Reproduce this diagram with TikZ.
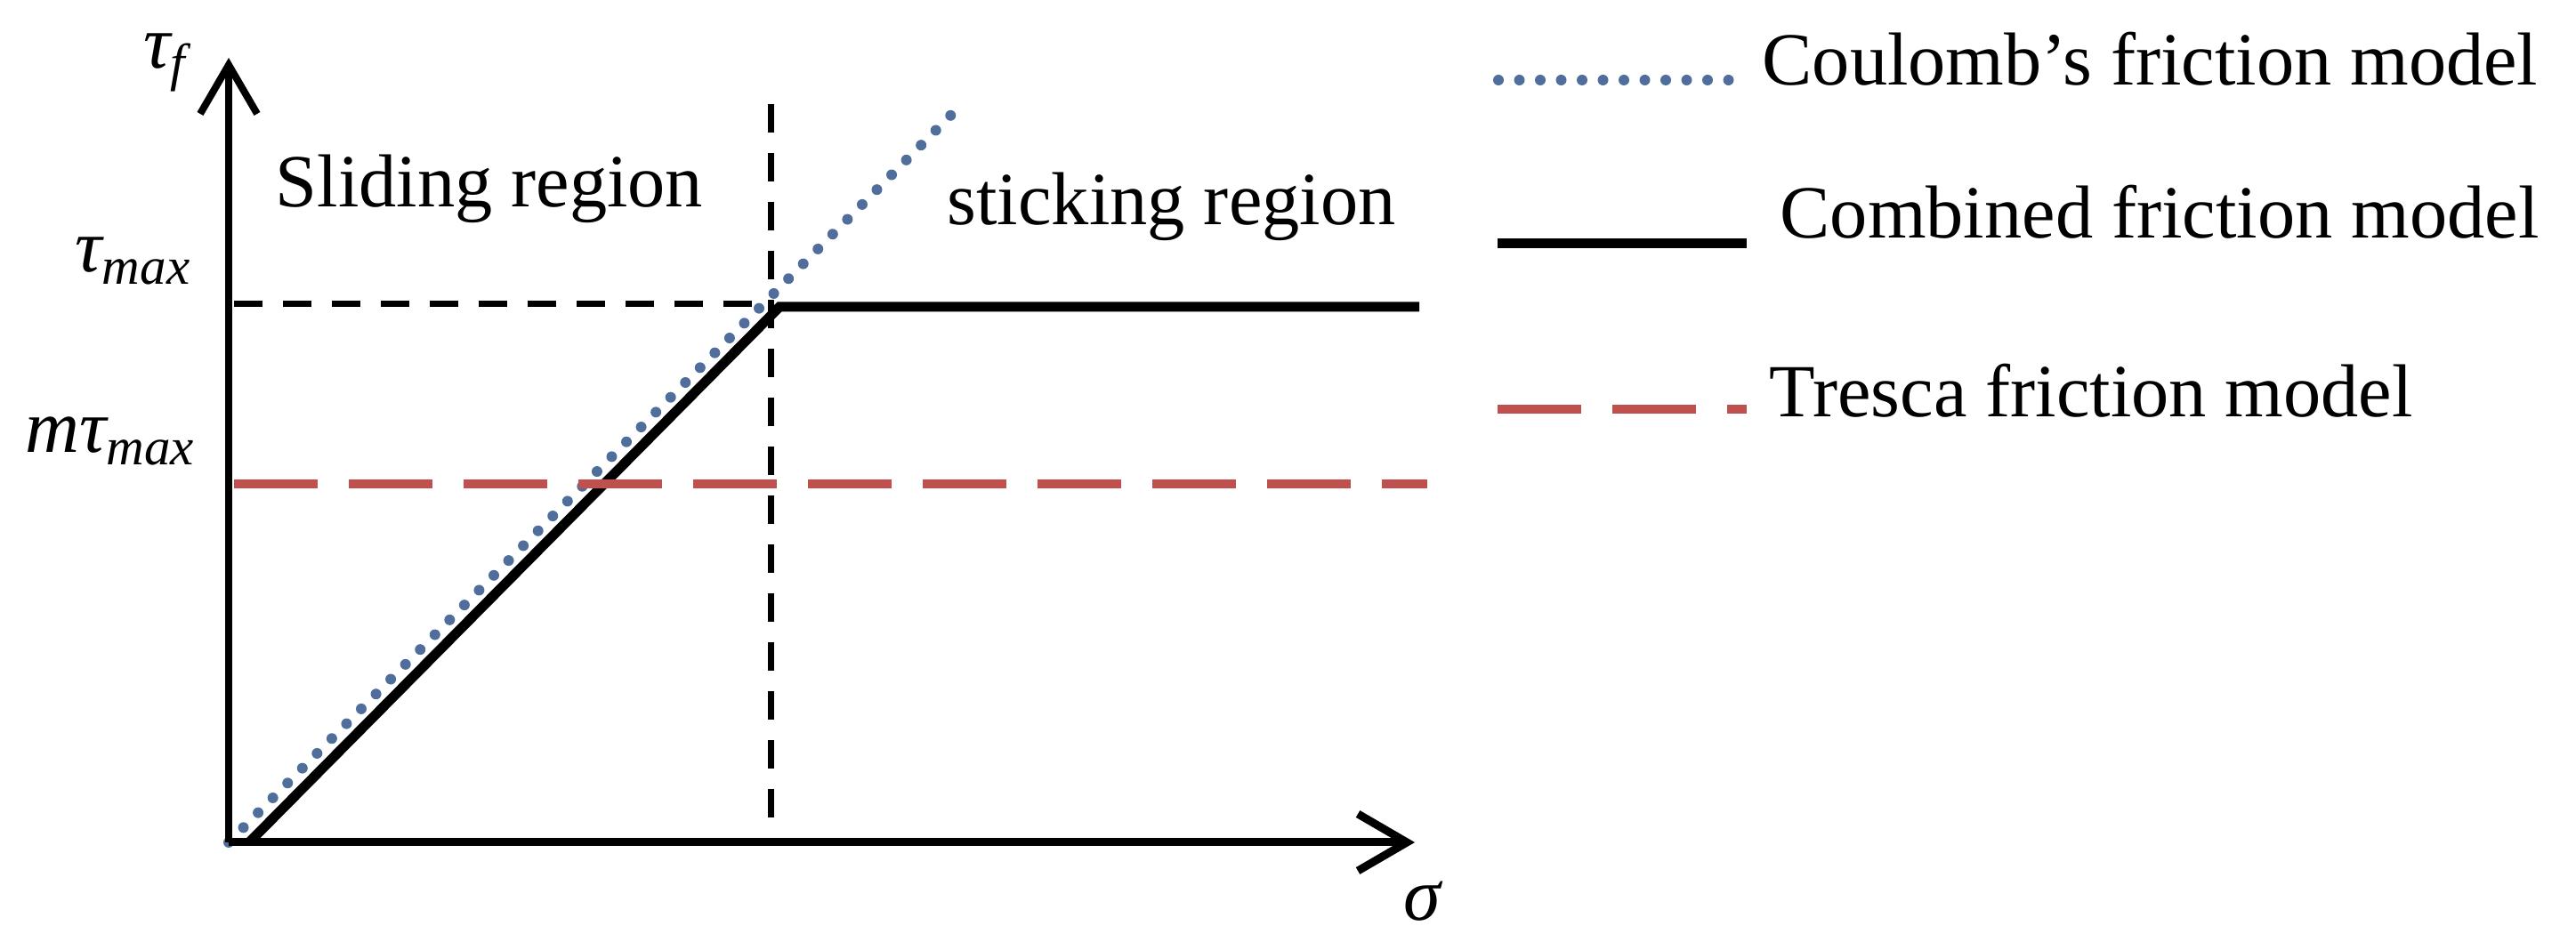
\documentclass[tikz,border=0pt]{standalone}
\usepackage{fontspec}
\setmainfont{Liberation Serif}
\usetikzlibrary{arrows.meta,positioning}
\definecolor{coulombblue}{HTML}{4F6E9C}
\definecolor{trescared}{HTML}{C0504D}
\newcommand{\tauit}{\mbox{\itshape τ}}
\newcommand{\sigmait}{\mbox{\itshape σ}}
\tikzstyle{axis} = [line width=0.8mm, -{Straight Barb[length=5.5mm, width=6.4mm]}]
\tikzstyle{guide} = [line width=0.7mm, dash pattern=on 3.2mm off 2.3mm]
\tikzstyle{coulomb} = [line width=1.2mm, coulombblue, line cap=round, dash pattern=on 0mm off 2.35mm]
\tikzstyle{combined} = [line width=1.1mm, black]
\tikzstyle{tresca} = [line width=1mm, trescared, dash pattern=on 9.4mm off 3.5mm]
\tikzstyle{textlabel} = [inner sep=0pt, anchor=base west]
\begin{document}
\begin{tikzpicture}[font=\fontsize{24}{28}\selectfont, line join=miter]
	            \useasboundingbox (0,0) rectangle (28.95,10.68);
	            % axes
	            \coordinate (origin) at (2.57,1.21);
	            \coordinate (sigmaEnd) at (15.90,1.21);
	            \coordinate (tauEnd) at (2.57,10.03);
	            \node (sigma) at (15.98,0.55) {$\sigmait$};
	            \node (tauF) [textlabel] at (1.61,9.91) {$\tauit_{\mathit{f}}$};
	            \node (tauMax) [textlabel] at (0.84,7.62) {$\tauit_{\mathit{max}}$};
	            \node (mTauMax) [textlabel] at (0.28,5.59) {$\mathit{m}\tauit_{\mathit{max}}$};
	            % key points
	            \coordinate (yield) at (8.76,7.23);
	            \coordinate (combStart) at (2.80,1.21);
	            \coordinate (combEnd) at (15.95,7.23);
	            \coordinate (coulombEnd) at (10.81,9.51);
	            \coordinate (splitTop) at (8.66,9.51);
	            \coordinate (splitBottom) at (8.66,1.21);
	            \coordinate (tauMaxStart) at (2.63,7.26);
	            \coordinate (tauMaxEnd) at (8.66,7.26);
	            \coordinate (trescaStart) at (2.63,5.24);
	            \coordinate (trescaEnd) at (16.04,5.24);
	            \node (sliding) [textlabel] at (3.09,8.35) {Sliding region};
	            \node (sticking) [textlabel] at (10.64,8.15) {sticking region};
	            \draw [guide] (splitTop) -- (splitBottom);
	            \draw [guide] (tauMaxStart) -- (tauMaxEnd);
	            \draw [coulomb] (origin) -- (coulombEnd);
	            \draw [combined] (combStart) -- (yield) -- (combEnd);
	            \draw [tresca] (trescaStart) -- (trescaEnd);
	            \draw [axis, line width=0.9mm] (origin) -- (sigmaEnd);
	            \draw [axis] (origin) -- (tauEnd);
	            % legend
	            \coordinate (coulombA) at (16.84,9.78);
	            \coordinate (coulombB) at (19.55,9.78);
	            \coordinate (combinedA) at (16.83,7.94);
	            \coordinate (combinedB) at (19.63,7.94);
	            \coordinate (trescaA) at (16.83,6.08);
	            \coordinate (trescaB) at (19.63,6.08);
	            \draw [coulomb] (coulombA) -- (coulombB);
	            \draw [combined] (combinedA) -- (combinedB);
	            \draw [tresca] (trescaA) -- (trescaB);
	            \node (coulombText) [textlabel] at (19.80,9.72) {Coulomb’s friction model};
	            \node (combinedText) [textlabel] at (20.00,8.00) {Combined friction model};
	            \node (trescaText) [textlabel] at (19.88,5.99) {Tresca friction model};
\end{tikzpicture}
\end{document}
